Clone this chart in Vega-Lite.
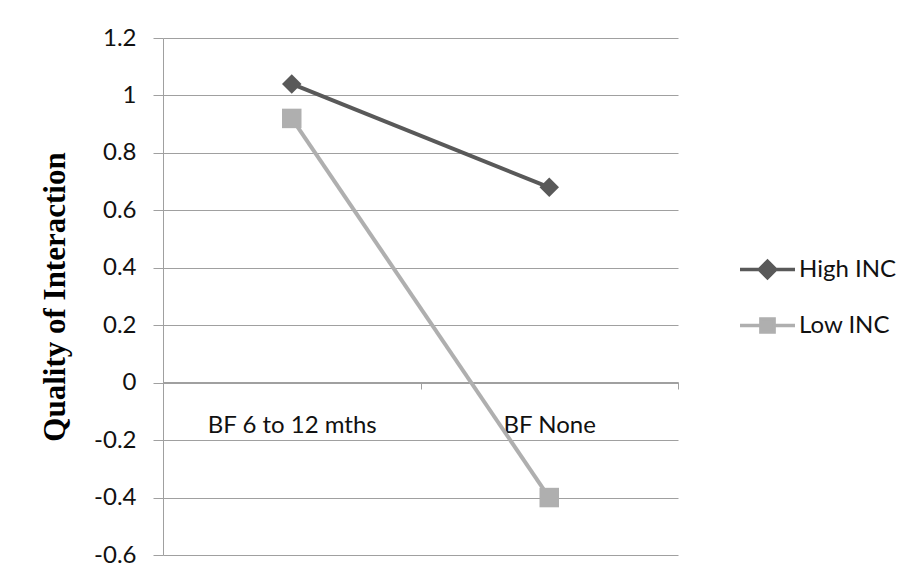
{
  "$schema": "https://vega.github.io/schema/vega-lite/v6.json",
  "autosize": "none",
  "width": 515,
  "height": 517,
  "padding": {"left": 163, "top": 38, "right": 241, "bottom": 23},
  "background": "white",
  "config": {
    "view": {"stroke": null},
    "font": "Lato"
  },
  "data": {
    "values": [
      {"cat": "BF 6 to 12 mths", "group": "High INC", "value": 1.04},
      {"cat": "BF None", "group": "High INC", "value": 0.68},
      {"cat": "BF 6 to 12 mths", "group": "Low INC", "value": 0.92},
      {"cat": "BF None", "group": "Low INC", "value": -0.40}
    ]
  },
  "encoding": {
    "x": {
      "field": "cat", "type": "nominal", "bandPosition": 0.5,
      "scale": {"type": "band", "paddingInner": 0, "paddingOuter": 0},
      "axis": {
        "title": null, "labelAngle": 0, "offset": -173, "tickBand": "extent",
        "domainColor": "#a0a0a0", "tickColor": "#a0a0a0", "tickSize": 7,
        "labelPadding": 24, "labelFont": "Lato", "labelFontSize": 24, "labelColor": "#111111",
        "grid": false
      }
    },
    "y": {
      "field": "value", "type": "quantitative",
      "scale": {"domain": [-0.6, 1.2], "nice": false, "zero": false},
      "axis": {
        "values": [-0.6, -0.4, -0.2, 0, 0.2, 0.4, 0.6, 0.8, 1, 1.2],
        "labelExpr": "'' + round(datum.value*10)/10",
        "grid": true, "gridColor": "#a0a0a0",
        "domainColor": "#a0a0a0", "tickColor": "#a0a0a0", "tickSize": 10,
        "labelPadding": 17, "labelFont": "Lato", "labelFontSize": 24, "labelColor": "#111111",
        "title": "Quality of Interaction", "titleFont": "Liberation Serif", "titleFontSize": 31,
        "titleFontWeight": "bold", "titleColor": "#000000", "titlePadding": 22
      }
    },
    "color": {
      "field": "group", "type": "nominal",
      "scale": {"domain": ["High INC", "Low INC"], "range": ["#595959", "#afafaf"]},
      "legend": {
        "title": null, "orient": "none", "legendX": 575, "legendY": 202,
        "padding": 0, "symbolSize": 3025, "rowPadding": 11, "labelOffset": 2,
        "labelFont": "Lato", "labelFontSize": 24, "labelColor": "#111111",
        "encode": {
          "symbols": {
            "update": {
              "shape": {"signal": "datum.value === 'High INC' ? 'M-1,0H-0.3L0,-0.3L0.3,0L0,0.3L-0.3,0ZM0.3,0H1' : 'M-1,0H-0.24M0.24,0H1M-0.24,-0.24H0.24V0.24H-0.24Z'"},
              "strokeWidth": {"value": 3.5},
              "stroke": {"scale": "color", "field": "value"},
              "fill": {"scale": "color", "field": "value"},
              "opacity": {"value": 1},
              "fillOpacity": {"value": 1}
            }
          }
        }
      }
    }
  },
  "layer": [
    {
      "mark": {"type": "line", "strokeWidth": 4},
      "encoding": {"detail": {"field": "group"}}
    },
    {
      "transform": [{"filter": "datum.group === 'High INC'"}],
      "mark": {"type": "point", "filled": true, "size": 380, "opacity": 1, "shape": "diamond"}
    },
    {
      "transform": [{"filter": "datum.group === 'Low INC'"}],
      "mark": {"type": "point", "filled": true, "size": 380, "opacity": 1, "shape": "square"}
    }
  ]
}
